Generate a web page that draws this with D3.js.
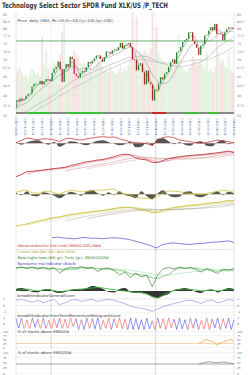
<!DOCTYPE html>
<html>
<head>
<meta charset="utf-8">
<script src="https://cdn.jsdelivr.net/npm/d3@7"></script>
<style>
  body { margin: 0; background: #fff; }
  svg { display: block; font-family: "DejaVu Sans", sans-serif; }
</style>
</head>
<body>
<svg id="chart"></svg>
<script>
const width = 250;
const height = 375;
const left = 16;
const right = 234;

// ---- data ----
const title = 'Technology Select Sector SPDR Fund XLK/US /P_TECH';
const firstWeek = '2017-09-01';
const lastDay = '2019-10-01';

// weekly closes before the window (only used to warm up the SMAs)
const historyCloses = [46.6, 46.9, 48.0, 48.5, 48.6, 48.5, 49.0, 49.3, 49.3, 50.2,
  50.9, 51.3, 52.1, 52.4, 52.8, 52.9, 53.2, 52.9, 53.3, 53.2, 52.6, 53.7, 54.5,
  55.7, 56.0, 55.6, 56.6, 57.0, 55.2, 55.3, 55.6, 54.7, 55.0, 56.0, 57.3, 57.3,
  57.5, 56.2, 56.6, 56.9];

const weeklyCloses = [
  58.9, 58.5, 59.3, 58.8, 59.1, 60.0, 60.5, 60.6, 62.4, 63.2, 63.2, 63.2, 64.0, 63.0, 63.8, 64.5, 64.4, 63.9,
  66.2, 67.4, 68.0, 69.5, 67.2, 63.7, 67.4, 68.8, 68.0, 71.0, 70.3, 66.0, 65.4, 64.9, 66.2, 66.8, 66.6, 67.9,
  69.4, 69.0, 69.8, 70.5, 71.4, 71.4, 70.3, 69.5, 70.9, 72.6, 72.4, 71.9, 73.0, 73.3, 73.0, 74.0, 75.4, 73.5,
  74.5, 74.9, 75.3, 74.0, 70.2, 70.0, 67.0, 68.6, 69.0, 66.4, 63.0, 66.9, 63.6, 63.0, 58.8, 61.6,
  61.5, 63.3, 65.0, 64.4, 66.0, 66.5, 68.0, 69.3, 70.2, 68.9, 72.4, 72.7, 74.0, 75.7, 76.2, 76.7, 78.9, 78.9,
  76.0, 75.0, 73.7, 71.6, 74.5, 75.0, 77.8, 78.1, 79.5, 80.7, 79.6, 81.8, 78.3, 78.5, 78.3, 76.2, 78.9, 80.0,
  80.6, 80.5, 80.0];

// relative weekly volume, 100 = panel top
const weeklyVolume = [
  38, 42, 45, 40, 36, 38, 35, 40, 44, 42, 38, 40, 36, 75, 48, 62, 44, 30,
  45, 50, 48, 52, 58, 80, 92, 50, 48, 52, 55, 62, 58, 56, 50, 48, 50, 45, 42, 46, 40, 44, 48, 52, 50, 46,
  42, 44, 40, 46, 42, 40, 38, 42, 46, 40, 44, 42, 48, 52, 100, 62, 95, 60, 60, 58, 62, 60, 58, 64, 100, 70,
  85, 60, 55, 52, 50, 48, 46, 50, 44, 48, 52, 78, 46, 44, 42, 40, 44, 46, 56, 52, 48, 50, 54, 48, 44, 60,
  42, 44, 40, 46, 88, 58, 50, 52, 46, 44, 60, 42, 40];

const priceTicks = [55, 57.5, 60, 62.5, 65, 67.5, 70, 72.5, 75, 77.5, 80, 82.5, 85];
const resistance = 76;
const smaLengths = [4, 10, 30, 40]; // weeks ~ 20/50/150/200 days
const priceLegend = 'Price, daily (SMA, Pk=20,Or=50,Cy=150,Gy=200)';

const regimeBreaks = ['2017-09-01', '2017-10-12', '2017-12-28', '2018-02-25', '2018-07-01', '2018-12-19',
  '2019-02-06', '2019-04-13', '2019-06-04', '2019-07-02', '2019-08-06', '2019-10-01'];
const regimeStates = ['flat', 'up', 'flat', 'up', 'flat', 'down', 'flat', 'up', 'flat', 'up', 'flat'];

// indicator panels, evenly spaced readings from 2017-09-01 to 2019-10-01
const oscLine = [0.6, 3, 5.3, 4.5, 3.3, 4.5, 4.3, 3.5, 1.6, 4.5, 5, 3.8, 3.3, 4.5, 5.3, 6.2, 6.6, 6, 6.3, 4.5,
  3, 1.2, 0.6, 0.3, -0.5, -1.7, 3, 5.8, 6.6, 5.5, 3.3, 2.5, 1.6, 0.8, 0, 1, 2, 3.3, 2.5, 1.6, 0.5];
const oscHist = [1, -1.5, 1, 2.5, 3, 0.5, -1.5, 1.5, -3.5, -1, 2, 1.5, -1, -2, 0.5, 2.5, 3, 1, -0.5, -2,
  -1, 1.5, -4, -3.5, 1, -2.5, 4.5, 5, 2, -1, 1, -1.5, -2.5, 1, 2, -2.5, -3, 1.5, 3, -1, 1];
const adLine = [5.3, 7.5, 10.3, 10.8, 11.3, 12, 12.7, 13.5, 14, 14.7, 16.5, 17.5, 19, 20.3, 21, 22, 22.5, 24,
  25.3, 27, 28, 27, 24, 22.8, 22, 19.5, 19.5, 21.5, 23.5, 24.5, 25.3, 26, 26.5, 27, 27.2, 28, 28.5, 29.3,
  30, 31, 29.3];
const volOsc = [2, 3.5, 4.3, 1.5, 1, 2.5, 3.3, 1.5, 0, 2.5, 4, 3.5, 2.5, 2.6, 3.5, 4.3, 4, 4.8, 5.3, 2,
  0.5, -0.7, -3, -3.8, -4, -4.7, -2, 2, 3.3, 3, 2.6, 1.5, 0.8, 0.5, 0.3, 1, 2, 3, 4, 3.5, 2];
const volHist = [1.5, -1, 3, -1.5, -2, 2, 1, -1.5, -4, -1, 2.5, 1, -1.5, 3, 4, 1, -1.5, 2, -1, 3,
  -1, -2, -4, 3, -2, -5, 1, 4, -1, -3, -2.5, 2.5, 3, -2, -3, -1, 1, 3, -1, 2.5, 1];
const volCum = [0, 1, 2, 3.5, 4.8, 6, 7.5, 8.5, 9, 10.5, 11.5, 12, 13, 13.7, 14.5, 15, 15.7, 16.5, 17.5,
  18.3, 18.8, 18.7, 17.5, 16.3, 15, 13.3, 13.5, 16, 17.5, 18.5, 19.3, 20, 20.7, 21.2, 21.8, 22.5, 23.2,
  23.6, 24.5, 25.7, 25];
const highsLows = [22, 23, 21.5, 23, 21, 22.5, 20.5, 22, 17, 21, 23, 22, 23.5, 21.5, 22.5, 18.5, 21.5, 22,
  19.5, 15, 18, 12.5, 17, 13, 15, 3.3, 15, 21, 22.5, 21, 23, 21.5, 22.5, 20.5, 18, 21.5, 19, 16.5, 21,
  20, 21.5];
const mcLine = [0.5, 1.5, 2, 1, 0, 1, 1.5, 0.5, -1, 0, 1, 1.5, 2, 2.5, 3, 3.5, 3, 2, 1.5, 0.5, 0, -1, -1,
  -2, -3, -5.5, -7, -4, -1.5, 0.5, 1.5, 2, 1.5, 1, 0, 0.5, 1, 0, 1, 2, 1.5];
const mcHist = [2, 3, 1.5, -1, -1.5, 1.5, 2, -1, -2, -1, 1, 2, 1.5, 3, 5, 4, 2, -1, -1.5, 2, 3, -1, -2,
  -1.5, -3, -6, -7, -5, -3, 1, 2, 3, 1.5, -1, -2, 1, 1.5, -1.5, 1, 3, 2];
const generalScore = [0.8, 0.9, 0.7, 0.5, 0.8, 0.4, 0.7, 0.9, 0.1, 0.4, 0.8, 0.9, 0.6, 0.8, 0.9, 0.6, 0.8,
  0.9, 0.8, 0.5, 0.3, -0.1, -0.3, -0.4, -0.6, -0.85, -0.5, -0.2, 0.1, 0.3, 0.5, 0.7, 0.8, 0.6, 0.3, 0.7,
  0.8, 0.4, 0.6, 0.9, 0.7];

// advance/decline line, 2018-01-05 to 2019-10-01
const adBlue = [11.7, 12.5, 11.5, 11.2, 10.7, 11.5, 12, 11.2, 11.3, 10.8, 11.3, 11.7, 11.5, 10.8, 10, 8.5,
  7, 5.5, 3.5, 1.5, 5, 5.8, 6.7, 6, 5.3, 5, 5.7, 6, 6.5, 7.3, 7.5, 8, 8.6, 7];

// short-term momentum score, 2017-09-01 to 2019-10-01
const stmScore = [0.9, -0.8, 1, -1, 0.7, -0.9, 1, -0.6, 0.8, -1, 1, -0.9, 0.6, -1, 0.9, -0.7, 1, -1, 0.8, -0.9,
  1, -0.5, 0.9, -1, 0.7, -1, 1, -0.8, 0.9, -0.9, 1, -1, 0.6, -0.8, 1, -1, 0.9, -0.7, 1, -0.9,
  0.8, -1, 1, -1, 0.9, -1, 0.7, -1, 1, -0.9, 0.5, -1, 1, -0.8, 0.9, -1, 1, -0.7, 0.8, -1,
  1, -0.9, 0.7, -1, 1, -0.8, 0.9, -1, 0.6, -0.9, 1, -1, 0.8, -0.7, 1, -1, 0.9, -0.8, 1, -1, 0.7];
const stmBullish = [['2017-09-01', '2017-09-22'], ['2017-10-30', '2017-11-13'], ['2017-12-04', '2017-12-18'],
  ['2018-01-22', '2018-02-01'], ['2018-03-26', '2018-04-05'], ['2018-04-19', '2018-05-07'],
  ['2018-05-27', '2018-06-21'], ['2018-07-26', '2018-08-05'], ['2018-09-23', '2018-12-23'],
  ['2019-01-06', '2019-01-16'], ['2019-03-02', '2019-04-20'], ['2019-05-08', '2019-06-04'],
  ['2019-07-20', '2019-08-13'], ['2019-09-07', '2019-09-28']];

// % of stocks above EMA, 2019-06-01 to 2019-10-01
const aboveEma50 = [26, 36, 51, 42, 36, 16, 26, 36, 42, 53, 36];
const aboveEma200 = [45, 50, 53, 56, 54, 51, 53, 55, 52, 49, 47];
const pctTicks = [0, 25, 50, 75, 100];
const ema50Ref = 25;
const ema200Ref = 45;

// ---- helpers ----
const parse = d3.timeParse('%Y-%m-%d');
const fmt = d3.timeFormat('%Y-%m-%d');
const x = d3.scaleTime().domain([parse(firstWeek), parse(lastDay)]).range([left, right]);

const spread = (vals, s, e) => {
  const a = +parse(s), b = +parse(e);
  return vals.map((v, i) => ({date: new Date(a + (b - a) * i / (vals.length - 1)), v}));
};

function sma(vals, n, full) {
  return vals.map((v, i) => {
    if (full && i < n - 1) return null;
    return d3.mean(vals.slice(Math.max(0, i - n + 1), i + 1));
  });
}

const svg = d3.select('#chart').attr('width', width).attr('height', height);
svg.append('rect').attr('width', width).attr('height', height).attr('fill', '#fff');

svg.append('defs').append('clipPath').attr('id', 'priceClip')
  .append('rect').attr('x', left).attr('y', 10).attr('width', right - left).attr('height', 104);

function drawLine(pts, y, color, w, dash) {
  const line = d3.line().defined(d => d.v != null).x(d => x(d.date)).y(d => y(d.v));
  return svg.append('path').datum(pts)
    .attr('d', line).attr('fill', 'none')
    .attr('stroke', color).attr('stroke-width', w)
    .attr('stroke-dasharray', dash || null)
    .attr('stroke-linejoin', 'round');
}

function drawArea(pts, y, color) {
  const area = d3.area().curve(d3.curveMonotoneX).x(d => x(d.date)).y0(y(0)).y1(d => y(d.v));
  svg.append('path').datum(pts).attr('d', area).attr('fill', color);
}

function hline(yPos, color, w, dash, x0) {
  svg.append('line').attr('x1', x0 || left).attr('x2', right).attr('y1', yPos).attr('y2', yPos)
    .attr('stroke', color).attr('stroke-width', w).attr('stroke-dasharray', dash || null);
}

function label(txt, xPos, yPos, color, size, box) {
  const t = svg.append('text').attr('x', xPos).attr('y', yPos)
    .attr('font-size', size).attr('fill', color).text(txt);
  if (box) {
    const bb = t.node().getBBox();
    svg.insert('rect', () => t.node())
      .attr('x', bb.x - 1).attr('y', bb.y - 0.5).attr('width', bb.width + 2).attr('height', bb.height + 1)
      .attr('fill', '#fff').attr('stroke', box === true ? 'none' : box).attr('stroke-width', 0.3);
  }
  return t;
}

// ---- title ----
svg.append('text').attr('x', 2).attr('y', 8)
  .attr('font-size', 7.5).attr('font-weight', 'bold').attr('fill', '#333')
  .attr('textLength', 166).attr('lengthAdjust', 'spacingAndGlyphs')
  .text(title);

// ---- price panel ----
const y = d3.scaleLog().domain([55, 85]).range([116, 15]);
const yVol = d3.scaleLinear().domain([0, 100]).range([113, 12]);

priceTicks.forEach(t => {
  hline(y(t), '#f0f0f0', 0.4);
  label(t, 3, y(t) + 1, '#4a70a8', 3.2);
  label(t, 237, y(t) + 1, '#4a70a8', 3.2);
});

// frame and year lines
[left, right].forEach(xp => svg.append('line').attr('x1', xp).attr('x2', xp)
  .attr('y1', 12).attr('y2', height).attr('stroke', '#c8c8c8').attr('stroke-width', 0.5));
['2018-01-01', '2019-01-01'].forEach(d => {
  svg.append('line').attr('x1', x(parse(d))).attr('x2', x(parse(d)))
    .attr('y1', 12).attr('y2', 114).attr('stroke', '#e6e6e6').attr('stroke-width', 0.5);
  svg.append('line').attr('x1', x(parse(d))).attr('x2', x(parse(d)))
    .attr('y1', 114).attr('y2', height).attr('stroke', '#bbb').attr('stroke-width', 0.6);
});

const allCloses = historyCloses.concat(weeklyCloses);
const weeks = allCloses.map((c, i) => ({
  date: d3.timeDay.offset(parse(firstWeek), 7 * (i - historyCloses.length)),
  close: c,
  prev: i > 0 ? allCloses[i - 1] : c
}));
const visible = weeks.slice(historyCloses.length);

const price = svg.append('g').attr('clip-path', 'url(#priceClip)');

// volume
price.selectAll('.vol').data(visible).join('rect')
  .attr('x', d => x(d.date) - 0.9).attr('width', 1.8)
  .attr('y', (d, i) => yVol(weeklyVolume[i]))
  .attr('height', (d, i) => yVol(0) - yVol(weeklyVolume[i]))
  .attr('fill', d => d.close < d.prev ? '#e8b4b4' : '#b6e0ae')
  .attr('opacity', 0.4);

// moving averages
const smaColors = ['#888', '#999', '#aaa', '#b8b8b8'];
smaLengths.forEach((n, k) => {
  const vals = sma(allCloses, n, true);
  const pts = weeks.map((d, i) => ({date: d.date, v: vals[i]})).slice(historyCloses.length - 1);
  price.append('path').datum(pts)
    .attr('d', d3.line().defined(d => d.v != null).x(d => x(d.date)).y(d => y(d.v)))
    .attr('fill', 'none').attr('stroke', smaColors[k]).attr('stroke-width', 0.6);
});

price.append('line').attr('x1', left).attr('x2', right)
  .attr('y1', y(resistance)).attr('y2', y(resistance))
  .attr('stroke', '#5aa85a').attr('stroke-width', 0.9);

// candles
price.selectAll('.candle').data(visible).join('rect')
  .attr('x', d => x(d.date) - 0.65).attr('width', 1.3)
  .attr('y', d => y(Math.max(d.close, d.prev)))
  .attr('height', d => Math.max(0.8, Math.abs(y(d.close) - y(d.prev))))
  .attr('fill', d => d.close < d.prev ? '#a82828' : '#2a842a');

label(priceLegend, 17.5, 22.3, '#333', 3.8, '#ddd');

// regime band
regimeStates.forEach((s, i) => {
  const x0 = x(parse(regimeBreaks[i])), x1 = x(parse(regimeBreaks[i + 1]));
  svg.append('rect').attr('x', x0).attr('width', x1 - x0).attr('y', 112).attr('height', 2)
    .attr('fill', s === 'up' ? '#3cc03c' : s === 'down' ? '#cc2a2a' : '#888');
});

// month labels
x.ticks(d3.timeMonth.every(1)).forEach(d => {
  svg.append('text').attr('transform', `translate(${x(d) - 1},118) rotate(90)`)
    .attr('font-size', 3).attr('fill', '#4a70a8').text(fmt(d));
});

// ---- panel 2: price oscillator ----
const y2 = d3.scaleLinear().domain([0, 1]).range([143.3, 142.3]);
drawArea(spread(oscHist, firstWeek, lastDay), y2, '#555');
hline(y2(0), '#c66', 0.4, '0.6,0.6');
drawLine(spread(oscLine, firstWeek, lastDay), y2, '#b22', 0.7);

// ---- panel 3: cumulative line ----
const y3 = d3.scaleLinear().domain([0, 1]).range([182, 181]);
drawLine(spread(sma(adLine, 6, true), firstWeek, lastDay), y3, '#ddd', 0.5);
[3, 10, 14].forEach((n, k) =>
  drawLine(spread(sma(adLine, n, true), firstWeek, lastDay), y3, ['#d46', '#c77', '#d99'][k], 0.45));
drawLine(spread(adLine, firstWeek, lastDay), y3, '#b22', 0.8);

// ---- panel 4: volume oscillator ----
const y4 = d3.scaleLinear().domain([0, 1]).range([194.3, 193.3]);
drawArea(spread(volHist, firstWeek, lastDay), y4, '#555');
hline(y4(0), '#cc4', 0.4, '0.8,0.6');
drawLine(spread(volOsc, firstWeek, lastDay), y4, '#c8b820', 0.7);

// ---- panel 5: cumulative volume ratio ----
const y5 = d3.scaleLinear().domain([0, 1]).range([226, 225]);
drawLine(spread(sma(volCum, 6, true), firstWeek, lastDay), y5, '#ddd', 0.5);
[3, 10, 14].forEach((n, k) =>
  drawLine(spread(sma(volCum, n, true), firstWeek, lastDay), y5, ['#cc5', '#aa8', '#998'][k], 0.45));
drawLine(spread(volCum, firstWeek, lastDay), y5, '#c8b820', 0.8);

// ---- panel 6: advance/decline line ----
const y6 = d3.scaleLinear().domain([0, 1]).range([249.5, 248.5]);
hline(y6(0), '#88c', 0.4, '0.8,0.6');
drawLine(spread(adBlue, '2018-01-05', lastDay), y6, '#4b4bc8', 0.7);
label('Advance/decline line (red) SMA50,200,268d', 17.5, 246.5, '#c33', 3.8);
label('Cumm Adv/Dec Vol ratio (title)', 17.5, 253, '#a89a18', 3.8);
label('New highs-lows (blk gr), Tmlo (gr), SMA50/200d', 17.5, 259, '#2a8a2a', 3.8);
label('Nymaymo ma Indicator (black)', 17.5, 265, '#3a3aa8', 3.8);

// ---- panel 7: new highs - lows ----
const y7 = d3.scaleLinear().domain([0, 1]).range([290, 289]);
drawLine(spread(sma(highsLows, 10), firstWeek, lastDay), y7, '#9ad49a', 0.5);
drawLine(spread(sma(highsLows, 4), firstWeek, lastDay), y7, '#8fd08f', 1);
drawLine(spread(highsLows, firstWeek, lastDay), y7, '#1e6e1e', 0.6);

// ---- panel 8: oscillator ----
const y8 = d3.scaleLinear().domain([0, 1]).range([291, 290]);
drawArea(spread(mcHist, firstWeek, lastDay), y8, '#333');
drawLine(spread(mcLine, firstWeek, lastDay), y8, '#3cb43c', 0.9);
label('breadthIndicatorGeneralScore', 17.5, 297, '#333', 3.8);

// ---- panel 9: general score ----
const y9 = d3.scaleLinear().domain([-1, 1]).range([312.3, 298.8]);
hline(y9(1), '#ccc', 0.4, null, 75);
hline(y9(0), '#aaa', 0.4, '0.8,0.8');
hline(y9(-1), '#ccc', 0.4, '0.8,0.8');
[1, 0, -1].forEach(t => {
  label(t, 3, y9(t) + 1, '#4a70a8', 3.2);
  label(t, 237, y9(t) + 1, '#4a70a8', 3.2);
});
drawLine(spread(generalScore, firstWeek, lastDay), y9, '#6a6ad8', 0.5);

// ---- panel 10: short-term momentum ----
const y10 = d3.scaleLinear().domain([-1, 1]).range([329.5, 318]);
label('breadthIndicatorShortTermMomentumHistogramScore', 17.5, 316.8, '#333', 3.8, true);
[1, 0].forEach(t => {
  label(t, 3, y10(t) + 1, '#4a70a8', 3.2);
  label(t, 237, y10(t) + 1, '#4a70a8', 3.2);
});
const stmPts = spread(stmScore, firstWeek, lastDay);
const bull = stmBullish.map(r => [parse(r[0]), parse(r[1])]);
stmPts.slice(1).forEach((p, i) => {
  const a = stmPts[i];
  const mid = new Date((+a.date + +p.date) / 2);
  const blue = bull.some(r => mid >= r[0] && mid <= r[1]);
  svg.append('line')
    .attr('x1', x(a.date)).attr('y1', y10(a.v)).attr('x2', x(p.date)).attr('y2', y10(p.v))
    .attr('stroke', blue ? '#3a3ae0' : '#f04848').attr('stroke-width', 0.55);
});

// ---- panels 11/12: % of stocks above EMA ----
const y11 = d3.scaleLinear().domain([0, 100]).range([347.5, 331.5]);
const y12 = d3.scaleLinear().domain([0, 100]).range([373.5, 352.5]);
[[y11, '% of stocks above EMA50d', aboveEma50, '#f0a030', ema50Ref, '#f2b878'],
 [y12, '% of stocks above EMA200d', aboveEma200, '#777', ema200Ref, '#666']].forEach(([yy, txt, vals, col, ref, refCol]) => {
  [100, 75, 0].forEach(t => hline(yy(t), '#bbb', 0.35, '0.8,0.8'));
  hline(yy(ref), refCol, 0.6);
  pctTicks.forEach(t => {
    label(t, 3, yy(t) + 1, '#4a70a8', 2.8);
    label(t, 237, yy(t) + 1, '#4a70a8', 2.8);
  });
  label(txt, 17.5, yy(100) + 1.5, '#333', 3.8, true);
  drawLine(spread(vals, '2019-06-01', lastDay), yy, col, 0.7);
});
</script>
</body>
</html>
